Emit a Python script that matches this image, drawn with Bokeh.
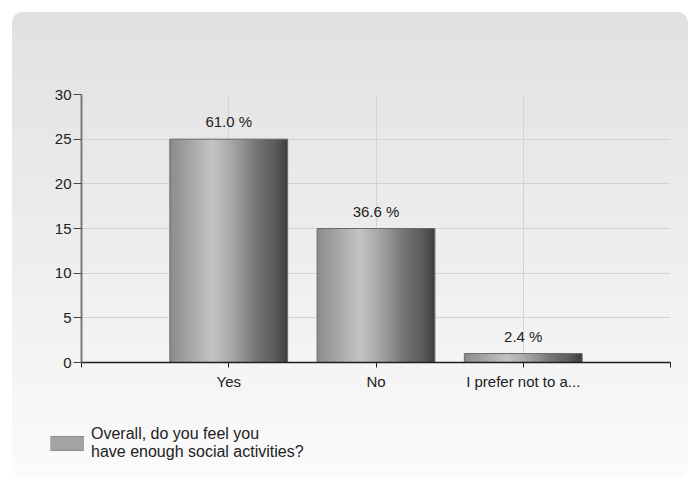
import numpy as np
from bokeh.plotting import figure
from bokeh.layouts import column
from bokeh.models import FixedTicker, Legend, LegendItem
from bokeh.embed import file_html
from bokeh.resources import INLINE
from bokeh.core.properties import value

# ---- data ----
categories = ["Yes", "No", "I prefer not to a..."]
counts = [25, 15, 1]
percent_labels = ["61.0 %", "36.6 %", "2.4 %"]
series_name = "Overall, do you feel you\nhave enough social activities?"
y_ticks = [0, 5, 10, 15, 20, 25, 30]

FONT = "Liberation Sans"
W = 676
H1, H2 = 400, 66

p = figure(width=W, height=H1, output_backend="svg", toolbar_location=None,
           x_range=(0, len(categories) + 1), y_range=(0, 30),
           min_border_left=69, min_border_right=18, min_border_top=82, min_border_bottom=50)
p.border_fill_alpha = 0
p.background_fill_alpha = 0
p.outline_line_color = None
p.frame_align = False

# ---- gradient bars built from strips ----
xs = np.arange(1, len(categories) + 1)
bar_w = 0.8
n_strips = 40
stops = [(0.0, 0x8c), (0.12, 0x9e), (0.36, 0xc4), (0.52, 0xa8), (0.75, 0x72), (0.9, 0x5a), (1.0, 0x3e)]
sp = np.array([s[0] for s in stops]); sv = np.array([s[1] for s in stops])
lefts, rights, tops, cols = [], [], [], []
for x, c in zip(xs, counts):
    for k in range(n_strips):
        f0 = k / n_strips
        f1 = (k + 1) / n_strips
        g = int(np.interp((f0 + f1) / 2, sp, sv))
        lefts.append(x - bar_w / 2 + f0 * bar_w)
        rights.append(min(x - bar_w / 2 + f1 * bar_w + 0.007, x + bar_w / 2))
        tops.append(c)
        cols.append("#%02x%02x%02x" % (g, g, g))
p.quad(left=lefts, right=rights, bottom=0, top=tops, fill_color=cols, line_color=None)
p.vbar(x=xs, top=counts, width=bar_w, fill_color=None, line_color="#6a6a6a", line_width=1)

# percentage labels
p.text(x=xs, y=counts, text=percent_labels, text_align="center", text_baseline="bottom",
       y_offset=-9, text_font=value(FONT), text_font_size="15px", text_color="#222222")

# ---- axes ----
p.xaxis.ticker = FixedTicker(ticks=[0, 1, 2, 3, 4])
p.xaxis.major_label_overrides = {0: "", 1: categories[0], 2: categories[1], 3: categories[2], 4: ""}
p.yaxis.ticker = FixedTicker(ticks=y_ticks)
p.xgrid.ticker = FixedTicker(ticks=[1, 2, 3, 4])
p.ygrid.ticker = FixedTicker(ticks=y_ticks[1:])
for g in (p.xgrid, p.ygrid):
    g.grid_line_color = "#d3d3d3"
    g.grid_line_width = 1

p.xaxis.axis_line_color = "#1e1e1e"
p.xaxis.axis_line_width = 1.5
p.xaxis.major_tick_line_color = "#1e1e1e"
p.xaxis.major_tick_out = 5
p.xaxis.major_tick_in = 0
p.xaxis.minor_tick_line_color = None
p.xaxis.major_label_standoff = 5

p.yaxis.axis_line_color = "#7a7a7a"
p.yaxis.axis_line_width = 2
p.yaxis.major_tick_line_color = "#444444"
p.yaxis.major_tick_out = 8
p.yaxis.major_tick_in = 0
p.yaxis.minor_tick_line_color = None
p.yaxis.major_label_standoff = 2

for ax in (p.xaxis, p.yaxis):
    ax.major_label_text_font = FONT
    ax.major_label_text_font_size = "15px"
    ax.major_label_text_color = "#222222"

# ---- legend strip (second figure) ----
q = figure(width=W, height=H2, output_backend="svg", toolbar_location=None,
           x_axis_location=None, y_axis_location=None, min_border=0,
           x_range=(0, 1), y_range=(0, 1))
q.border_fill_alpha = 0
q.background_fill_alpha = 0
q.outline_line_color = None
q.grid.visible = False
q.frame_align = False
edge = q.line(x=[np.nan], y=[np.nan], line_color="#8c8c8c", line_width=15, line_cap="butt")
fill = q.line(x=[np.nan], y=[np.nan], line_color="#a3a3a3", line_width=13, line_cap="butt")
legend = Legend(items=[LegendItem(label=series_name, renderers=[edge, fill])],
                location=(38, 15), padding=0, margin=0, spacing=0,
                glyph_width=34, glyph_height=40, label_standoff=7,
                label_text_font=FONT, label_text_font_size="16px", label_text_color="#222222",
                border_line_alpha=0, background_fill_alpha=0)
q.add_layout(legend, "center")

layout = column(p, q, spacing=0,
                styles={"margin-left": "12px", "margin-top": "12px", "border-radius": "10px",
                        "background": "linear-gradient(to bottom, #e1e1e1 0%, #ececec 45%, #fbfbfb 100%)"})

open("out.html", "w").write(file_html(layout, INLINE))
